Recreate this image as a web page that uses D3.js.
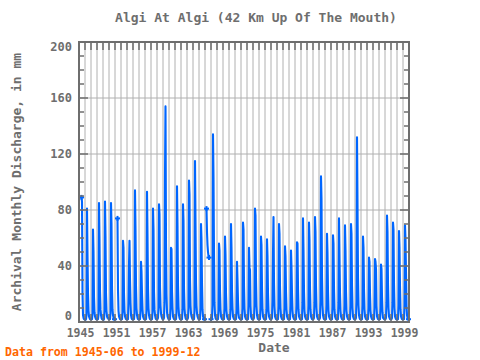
<!DOCTYPE html>
<html><head><meta charset="utf-8">
<script src="https://cdn.jsdelivr.net/npm/d3@7"></script>
<style>body{margin:0;background:#fff}svg{display:block}</style>
</head><body>
<svg id="c" width="480" height="360"></svg>
<script>
const title = "Algi At Algi (42 Km Up Of The Mouth)";
const yLabel = "Archival Monthly Discharge, in mm";
const xLabel = "Date";
const footer = "Data from 1945-06 to 1999-12";
const xTickYears = [1945, 1951, 1957, 1963, 1969, 1975, 1981, 1987, 1993, 1999];
const yTicks = [0, 40, 80, 120, 160, 200];
const firstYear = 1945, firstMonth = 6; // series starts 1945-06

// monthly discharge (mm), Jan..Dec per row; null = missing
const flow1945_1954 = [
  /*1945*/ 89, 86, 21, 5, 3, 2, 2,
  /*1946*/ 2, 1.5, 2, 5, 81, 48, 20, 8, 4, 3, 2, 2,
  /*1947*/ 2, 2, 2, 6, 66, 50, 18, 7, 4, 3, 2, 2,
  /*1948*/ 2, 2, 2, 5, 85, 58, 22, 9, 5, 3, 2, 2,
  /*1949*/ 2, 1.5, 2, 8, 86, 61, 20, 8, 4, 3, 3, 2,
  /*1950*/ 2, 2, 2, 6, 85, 70, 24, 9, 5, 3, 2, 2,
  /*1951*/ null, null, null, null, null, 74, 23, 8, 4, 3, 2, 2,
  /*1952*/ 2, 2, 2, 7, 58, 53, 20, 8, 4, 3, 2, 2,
  /*1953*/ 2, 2, 2, 14, 41, 58, 30, 14, 5, 3, 2, 2,
  /*1954*/ 2, 2, 2, 6, 94, 66, 25, 10, 5, 3, 2, 2
];
const flow1955_1964 = [
  /*1955*/ 2, 2, 2, 8, 43, 36, 20, 9, 4, 3, 2, 2,
  /*1956*/ 2, 2, 2, 8, 93, 62, 24, 10, 5, 3, 2, 2,
  /*1957*/ 2, 2, 2, 7, 81, 66, 22, 9, 5, 3, 2, 2,
  /*1958*/ 2, 2, 3, 10, 84, 77, 25, 12, 6, 4, 3, 2,
  /*1959*/ 2, 2, 3, 14, 104, 154, 56, 20, 7, 4, 3, 2,
  /*1960*/ 2, 2, 2, 10, 53, 52, 22, 10, 4, 3, 2, 2,
  /*1961*/ 2, 2, 2, 7, 97, 69, 26, 11, 5, 3, 2, 2,
  /*1962*/ 2, 2, 2, 9, 84, 72, 24, 10, 5, 3, 2, 2,
  /*1963*/ 2, 2, 3, 10, 101, 91, 30, 12, 6, 4, 3, 2,
  /*1964*/ 2, 2, 2, 8, 115, 71, 28, 12, 6, 4, 3, 2
];
const flow1965_1974 = [
  /*1965*/ 2, 2, 2, 10, 70, 59, 27, 9, 4, 3, 2, 2,
  /*1966*/ null, null, null, 81, 64, 55, 50, 47, 46, null, null, null,
  /*1967*/ 2, 2, 3, 12, 134, 103, 48, 14, 5, 3, 2, 2,
  /*1968*/ 2, 2, 2, 8, 56, 51, 22, 9, 4, 3, 2, 2,
  /*1969*/ 2, 2, 2, 10, 61, 48, 20, 8, 4, 3, 2, 2,
  /*1970*/ 2, 2, 2, 9, 70, 53, 22, 10, 4, 3, 2, 2,
  /*1971*/ 2, 2, 2, 8, 43, 30, 15, 6, 3, 3, 2, 2,
  /*1972*/ 2, 2, 2, 10, 71, 66, 26, 10, 4, 3, 2, 2,
  /*1973*/ 2, 2, 2, 12, 53, 39, 37, 12, 4, 3, 2, 2,
  /*1974*/ 2, 2, 3, 12, 81, 76, 30, 12, 5, 3, 2, 2
];
const flow1975_1984 = [
  /*1975*/ 2, 2, 2, 10, 61, 55, 24, 9, 4, 3, 2, 2,
  /*1976*/ 2, 2, 2, 9, 59, 47, 20, 8, 4, 3, 2, 2,
  /*1977*/ 2, 2, 3, 15, 49, 75, 28, 11, 4, 3, 2, 2,
  /*1978*/ 2, 2, 2, 11, 70, 63, 25, 10, 4, 3, 2, 2,
  /*1979*/ 2, 2, 2, 10, 54, 47, 22, 9, 4, 3, 2, 2,
  /*1980*/ 2, 2, 2, 12, 51, 39, 20, 8, 4, 3, 2, 2,
  /*1981*/ 2, 2, 2, 12, 57, 56, 24, 9, 4, 3, 2, 2,
  /*1982*/ 2, 2, 2, 14, 74, 51, 22, 8, 4, 3, 2, 2,
  /*1983*/ 2, 2, 2, 12, 71, 58, 24, 9, 4, 3, 2, 2,
  /*1984*/ 2, 2, 3, 14, 75, 64, 26, 10, 4, 3, 2, 2
];
const flow1985_1999 = [
  /*1985*/ 2, 2, 3, 15, 104, 88, 32, 12, 5, 3, 2, 2,
  /*1986*/ 2, 2, 2, 12, 63, 49, 22, 8, 4, 3, 2, 2,
  /*1987*/ 2, 2, 2, 11, 62, 56, 24, 9, 4, 3, 2, 2,
  /*1988*/ 2, 2, 2, 14, 74, 47, 20, 8, 4, 3, 2, 2,
  /*1989*/ 2, 2, 2, 12, 69, 51, 22, 8, 4, 3, 2, 2,
  /*1990*/ 2, 2, 2, 12, 70, 63, 26, 10, 4, 3, 2, 2,
  /*1991*/ 2, 2, 3, 15, 132, 85, 32, 12, 5, 3, 2, 2,
  /*1992*/ 2, 2, 2, 12, 61, 53, 23, 9, 4, 3, 2, 2,
  /*1993*/ 2, 2, 2, 10, 46, 43, 20, 8, 4, 3, 2, 2,
  /*1994*/ 2, 2, 2, 10, 45, 43, 38, 12, 4, 3, 2, 2,
  /*1995*/ 2, 2, 2, 10, 41, 38, 18, 7, 3, 3, 2, 2,
  /*1996*/ 2, 2, 3, 14, 76, 64, 27, 10, 4, 3, 2, 2,
  /*1997*/ 2, 2, 3, 14, 71, 66, 27, 10, 4, 3, 2, 2,
  /*1998*/ 2, 2, 2, 12, 65, 53, 25, 9, 4, 3, 2, 2,
  /*1999*/ 2, 2, 2, 12, 69, 59, 35, 12, 5, 3, 2, 2
];

const values = [].concat(flow1945_1954, flow1955_1964, flow1965_1974, flow1975_1984, flow1985_1999);
const data = values.map((v, i) => ({ t: firstYear + (firstMonth - 1 + i) / 12, v }));

const svg = d3.select("#c");
const L = 79, R = 409, T = 42, B = 322;
const x = d3.scaleLinear().domain([1945, 2000]).range([L, R]);
const y = d3.scaleLinear().domain([0, 200]).range([B, T]);
const gray = "#6e6e6e", grid = "#b0b0b0";
const font = "'DejaVu Sans Mono', monospace";

// grid
const years = d3.range(1946, 2000);
svg.append("g").selectAll("line").data(years).join("line")
  .attr("x1", d => x(d)).attr("x2", d => x(d)).attr("y1", T).attr("y2", B)
  .attr("stroke", grid).attr("stroke-width", 1);
svg.append("g").selectAll("line").data(yTicks.slice(1, -1)).join("line")
  .attr("x1", L).attr("x2", R).attr("y1", d => y(d)).attr("y2", d => y(d))
  .attr("stroke", grid).attr("stroke-width", 1);

// data
svg.append("defs").append("clipPath").attr("id", "clip")
  .append("rect").attr("x", L).attr("y", T).attr("width", R - L).attr("height", B - T);
const line = d3.line().defined(d => d.v != null).x(d => x(d.t)).y(d => y(d.v));
svg.append("path").datum(data).attr("d", line).attr("fill", "none")
  .attr("stroke", "#0066ff").attr("stroke-width", 2.1).attr("stroke-linejoin", "round")
  .attr("clip-path", "url(#clip)");
// segment-end markers
const ends = data.filter((d, i) => d.v != null &&
  (i === 0 || i === data.length - 1 || data[i - 1].v == null || data[i + 1].v == null));
const mk = svg.append("g").attr("stroke", "#0066ff").attr("stroke-width", 2);
ends.forEach(d => {
  mk.append("line").attr("x1", x(d.t) - 2.5).attr("x2", x(d.t) + 2.5).attr("y1", y(d.v)).attr("y2", y(d.v));
  mk.append("line").attr("x1", x(d.t)).attr("x2", x(d.t)).attr("y1", y(d.v) - 2.5).attr("y2", y(d.v) + 2.5);
});

// ticks
const tk = svg.append("g").attr("stroke", gray);
years.forEach(yr => {
  tk.append("line").attr("x1", x(yr)).attr("x2", x(yr)).attr("y1", T).attr("y2", T + 8).attr("stroke-width", 1.5);
  tk.append("line").attr("x1", x(yr)).attr("x2", x(yr)).attr("y1", B).attr("y2", B - 8).attr("stroke-width", 1.5);
});
d3.range(10, 200, 10).forEach(v => {
  const len = v % 40 === 0 ? 9 : 5;
  tk.append("line").attr("x1", L).attr("x2", L + len).attr("y1", y(v)).attr("y2", y(v)).attr("stroke-width", 1.5);
  tk.append("line").attr("x1", R).attr("x2", R - len).attr("y1", y(v)).attr("y2", y(v)).attr("stroke-width", 1.5);
});

// frame
svg.append("rect").attr("x", L).attr("y", T).attr("width", R - L).attr("height", B - T)
  .attr("fill", "none").attr("stroke", gray).attr("stroke-width", 2);

// labels
svg.append("g").selectAll("text").data(yTicks).join("text")
  .attr("x", 72).attr("y", d => y(d) + 4 + (d === 200 ? 5 : d === 0 ? -6 : 0))
  .attr("text-anchor", "end").attr("font-family", font).attr("font-size", 12).attr("font-weight", "bold")
  .attr("fill", gray).text(d => d);
svg.append("g").selectAll("text").data(xTickYears).join("text")
  .attr("x", d => x(d) + 1.5).attr("y", 337)
  .attr("text-anchor", "middle").attr("font-family", font).attr("font-size", 11.5).attr("font-weight", "bold")
  .attr("fill", gray).text(d => d);
svg.append("text").attr("x", 256).attr("y", 22).attr("text-anchor", "middle")
  .attr("font-family", font).attr("font-size", 13).attr("font-weight", "bold").attr("fill", gray).text(title);
svg.append("text").attr("x", 274).attr("y", 352).attr("text-anchor", "middle")
  .attr("font-family", font).attr("font-size", 13).attr("font-weight", "bold").attr("fill", gray).text(xLabel);
svg.append("text").attr("transform", "translate(21,182) rotate(-90)").attr("text-anchor", "middle")
  .attr("font-family", font).attr("font-size", 13).attr("font-weight", "bold").attr("fill", gray).text(yLabel);
svg.append("text").attr("x", 5).attr("y", 356)
  .attr("font-family", font).attr("font-size", 11.6).attr("font-weight", "bold").attr("fill", "#ff6600").text(footer);
</script>
</body></html>
